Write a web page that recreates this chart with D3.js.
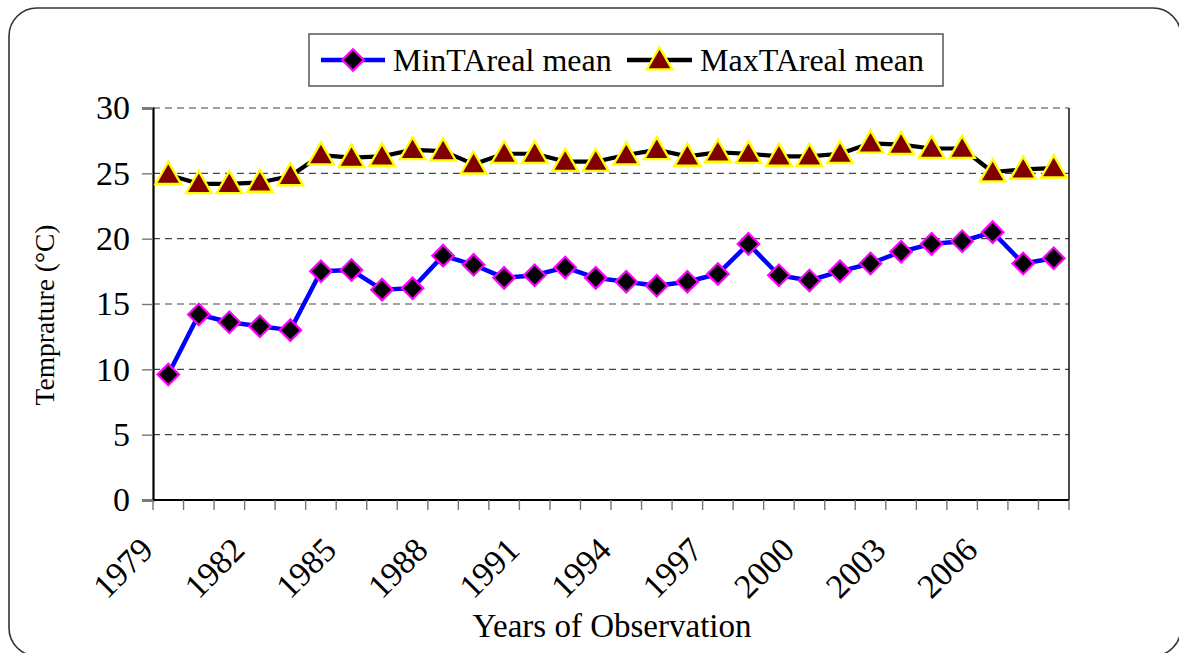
<!DOCTYPE html>
<html>
<head>
<meta charset="utf-8">
<script src="https://cdn.jsdelivr.net/npm/d3@7"></script>
<style>
  html, body { margin: 0; padding: 0; background: #fff; }
  svg { display: block; }
  svg text { font-family: "Liberation Serif", "Times New Roman", serif !important; fill: #000; }
</style>
</head>
<body>
<svg id="chart" width="1179" height="653"></svg>
<script>
// Annual areal mean temperatures (°C), 1979–2008
const years = d3.range(1979, 2009);
const minT = [9.6, 14.2, 13.6, 13.3, 13.0, 17.5, 17.6, 16.1, 16.2, 18.7,
              18.0, 17.0, 17.2, 17.8, 17.0, 16.7, 16.4, 16.7, 17.3, 19.6,
              17.2, 16.8, 17.5, 18.1, 19.0, 19.6, 19.8, 20.5, 18.1, 18.5];
const maxT = [24.9, 24.2, 24.2, 24.3, 24.8, 26.4, 26.2, 26.3, 26.8, 26.7,
              25.7, 26.5, 26.5, 25.9, 25.9, 26.4, 26.8, 26.3, 26.6, 26.5,
              26.3, 26.3, 26.5, 27.3, 27.2, 26.9, 26.9, 25.1, 25.3, 25.4];
const yTicks = [0, 5, 10, 15, 20, 25, 30];
const xLabelYears = years.filter((d, i) => i % 3 === 0);
const seriesNames = ["MinTAreal mean", "MaxTAreal mean"];

const svg = d3.select("#chart");
const plot = { left: 153, right: 1069, top: 108, bottom: 500 };

// Outer chart frame
svg.append("rect")
  .attr("x", 9).attr("y", 8).attr("width", 1172).attr("height", 648)
  .attr("rx", 28).attr("ry", 28)
  .attr("fill", "#fff").attr("stroke", "#333").attr("stroke-width", 1.6);

const x = d3.scaleBand().domain(years).range([plot.left, plot.right]).padding(0);
const y = d3.scaleLinear().domain([0, 30]).range([plot.bottom, plot.top]);
const cx = d => x(d) + x.bandwidth() / 2;

// Horizontal gridlines (dashed)
svg.append("g")
  .selectAll("line")
  .data(yTicks.filter(t => t > 0))
  .join("line")
  .attr("x1", plot.left).attr("x2", plot.right)
  .attr("y1", d => y(d)).attr("y2", d => y(d))
  .attr("stroke", "#444").attr("stroke-width", 1.2)
  .attr("stroke-dasharray", "7,5");

// Y axis
const yAxis = svg.append("g")
  .attr("transform", `translate(${plot.left},0)`)
  .call(d3.axisLeft(y).tickValues(yTicks).tickSize(11).tickPadding(12));
yAxis.attr("font-family", null);
yAxis.select(".domain").attr("stroke", "#000").attr("stroke-width", 2.2);
yAxis.selectAll(".tick line").attr("stroke", "#777").attr("stroke-width", 1.4);
yAxis.selectAll(".tick text")
  .attr("font-size", 34).attr("fill", "#000");

// Right border of plot area
svg.append("line")
  .attr("x1", plot.right).attr("x2", plot.right)
  .attr("y1", plot.top).attr("y2", plot.bottom)
  .attr("stroke", "#000").attr("stroke-width", 1.4);

// X axis: ticks at category boundaries
const xAxis = svg.append("g").attr("transform", `translate(0,${plot.bottom})`);
xAxis.append("line")
  .attr("x1", plot.left).attr("x2", plot.right)
  .attr("stroke", "#000").attr("stroke-width", 1.8);
const boundaries = years.map(d => x(d)).concat([plot.right]);
xAxis.selectAll("line.tk")
  .data(boundaries)
  .join("line").attr("class", "tk")
  .attr("x1", d => d).attr("x2", d => d)
  .attr("y1", 0).attr("y2", 10)
  .attr("stroke", "#777").attr("stroke-width", 1.4);
xAxis.selectAll("text")
  .data(xLabelYears)
  .join("text")
  .attr("transform", d => `translate(${x(d) + 2},${52}) rotate(-45)`)
  .attr("text-anchor", "end")
  .attr("font-size", 34)
  .text(d => d);

// Axis titles
svg.append("text")
  .attr("transform", "translate(54,315) rotate(-90)")
  .attr("text-anchor", "middle")
  .attr("font-size", 27.5)
  .text("Temprature (°C)");
svg.append("text")
  .attr("x", 612).attr("y", 637)
  .attr("text-anchor", "middle")
  .attr("font-size", 33)
  .text("Years of Observation");

// Series
const line = d3.line().x(d => cx(d.year)).y(d => y(d.v));
const minData = years.map((yr, i) => ({ year: yr, v: minT[i] }));
const maxData = years.map((yr, i) => ({ year: yr, v: maxT[i] }));

const diamond = d3.symbol().type(d3.symbolSquare).size(230);
const triangle = d3.symbol().type(d3.symbolTriangle).size(280);

svg.append("path").datum(maxData)
  .attr("d", line).attr("fill", "none")
  .attr("stroke", "#000").attr("stroke-width", 4.2).attr("stroke-linejoin", "round");
svg.append("path").datum(minData)
  .attr("d", line).attr("fill", "none")
  .attr("stroke", "#0000ff").attr("stroke-width", 4.5).attr("stroke-linejoin", "round");

svg.append("g").selectAll("path")
  .data(minData)
  .join("path")
  .attr("d", diamond)
  .attr("transform", d => `translate(${cx(d.year)},${y(d.v)}) rotate(45)`)
  .attr("fill", "#000").attr("stroke", "#ff00ff").attr("stroke-width", 2.2);

svg.append("g").selectAll("path")
  .data(maxData)
  .join("path")
  .attr("d", triangle)
  .attr("transform", d => `translate(${cx(d.year)},${y(d.v) + 2})`)
  .attr("fill", "#800000").attr("stroke", "#ffff00").attr("stroke-width", 2.4);

// Legend
const legend = svg.append("g");
legend.append("rect")
  .attr("x", 309).attr("y", 34).attr("width", 634).attr("height", 52)
  .attr("fill", "#fff").attr("stroke", "#555").attr("stroke-width", 1.5);
const legendItems = [
  { name: seriesNames[0], x0: 321, x1: 385, color: "#0000ff", sym: diamond, fill: "#000", edge: "#ff00ff", rot: 45, dy: 0, tx: 393 },
  { name: seriesNames[1], x0: 627, x1: 692, color: "#000", sym: triangle, fill: "#800000", edge: "#ffff00", rot: 0, dy: 2, tx: 700 }
];
const ly = 60;
legendItems.forEach(it => {
  legend.append("line")
    .attr("x1", it.x0).attr("x2", it.x1).attr("y1", ly).attr("y2", ly)
    .attr("stroke", it.color).attr("stroke-width", 4.5);
  legend.append("path")
    .attr("d", it.sym)
    .attr("transform", `translate(${(it.x0 + it.x1) / 2},${ly + it.dy}) rotate(${it.rot})`)
    .attr("fill", it.fill).attr("stroke", it.edge).attr("stroke-width", 2.3);
  legend.append("text")
    .attr("x", it.tx).attr("y", ly + 11)
    .attr("font-size", 32)
    .text(it.name);
});
</script>
</body>
</html>
